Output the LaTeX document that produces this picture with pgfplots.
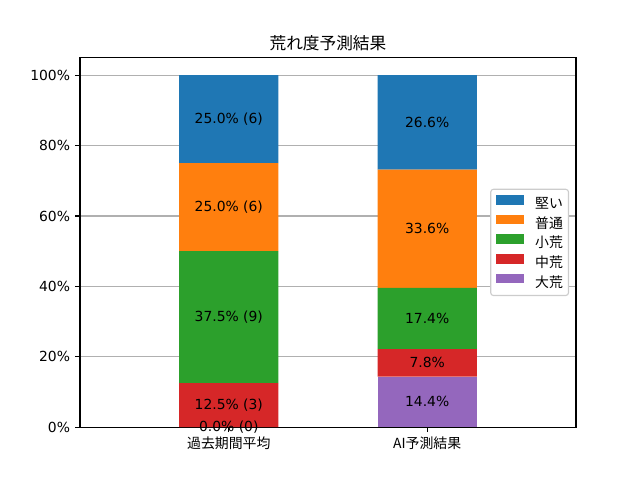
\documentclass[border=0pt]{standalone}
\usepackage{pgfplots}
\pgfplotsset{compat=1.18}
\usepackage{fontspec}
\setmainfont{DejaVu Sans}
\newfontfamily\cjk{Noto Sans CJK JP}
\definecolor{c1}{HTML}{1F77B4}
\definecolor{c2}{HTML}{FF7F0E}
\definecolor{c3}{HTML}{2CA02C}
\definecolor{c4}{HTML}{D62728}
\definecolor{c5}{HTML}{9467BD}
\definecolor{gridc}{HTML}{B0B0B0}
\definecolor{legc}{HTML}{CCCCCC}
\pgfplotsset{
  mylegend/.style={legend image code/.code={\fill[##1, sharp corners] (0pt,-0.3pt) rectangle (20pt,6.7pt);}},
}
\begin{document}
\begin{tikzpicture}
\path[use as bounding box] (0,0) rectangle (460.8pt,345.6pt);
\begin{axis}[
  at={(57.6pt,38.016pt)}, anchor=south west,
  scale only axis, width=357.12pt, height=266.112pt,
  ybar stacked, bar width=0.5,
  xmin=-0.75, xmax=1.75, ymin=0, ymax=105,
  xtick={0,1}, xticklabels={過去期間平均, AI予測結果},
  ytick={0,20,40,60,80,100},
  yticklabel={\pgfmathprintnumber{\tick}\%},
  /pgf/number format/assume math mode=true,
  x tick label style={font=\cjk\fontsize{10}{12}\selectfont, inner sep=0pt, yshift=-3.5pt},
  y tick label style={font=\fontsize{10}{12}\selectfont, inner sep=0pt, xshift=-3.5pt},
  tick pos=left, tick align=outside,
  major tick length=3.5pt,
  every tick/.style={black, line width=0.8pt},
  axis line style={line width=0.8pt},
  ymajorgrids, grid style={gridc, line width=0.8pt},
  title={荒れ度予測結果},
  title style={font=\cjk\fontsize{12}{14}\selectfont, anchor=base, inner sep=0pt},
  reverse legend,
  legend cell align=left,
  legend style={at={(1,0.5)}, anchor=east, xshift=-5pt,
    draw=legc, line width=0.8pt, rounded corners=2pt, fill=white,
    font=\cjk\fontsize{10}{12}\selectfont,
    inner xsep=4pt, inner ysep=4pt, row sep=2.5pt,
    nodes={inner sep=0pt, text height=8pt, text depth=2pt},
    /tikz/every odd column/.append style={column sep=8pt}},
]
\addplot[fill=c5, draw=none, mylegend] coordinates {(0,0) (1,14.4)};
\addlegendentry{大荒}
\addplot[fill=c4, draw=none, mylegend] coordinates {(0,12.5) (1,7.8)};
\addlegendentry{中荒}
\addplot[fill=c3, draw=none, mylegend] coordinates {(0,37.5) (1,17.4)};
\addlegendentry{小荒}
\addplot[fill=c2, draw=none, mylegend] coordinates {(0,25.0) (1,33.6)};
\addlegendentry{普通}
\addplot[fill=c1, draw=none, mylegend] coordinates {(0,25.0) (1,26.8)};
\addlegendentry{堅い}
\end{axis}
\begin{axis}[
  at={(57.6pt,38.016pt)}, anchor=south west,
  scale only axis, width=357.12pt, height=266.112pt,
  xmin=-0.75, xmax=1.75, ymin=0, ymax=105,
  hide axis, clip=false,
]
\addplot[draw=none, nodes near coords, point meta=explicit symbolic,
  every node near coord/.append style={anchor=center, font=\fontsize{10}{12}\selectfont, text=black, inner sep=0pt}]
coordinates {
  (0,0)[0.0\% (0)]
  (0,6.25)[12.5\% (3)]
  (0,31.25)[37.5\% (9)]
  (0,62.5)[25.0\% (6)]
  (0,87.5)[25.0\% (6)]
  (1,7.2)[14.4\%]
  (1,18.3)[7.8\%]
  (1,30.9)[17.4\%]
  (1,56.4)[33.6\%]
  (1,86.6)[26.6\%]
};
\end{axis}
\end{tikzpicture}
\end{document}
